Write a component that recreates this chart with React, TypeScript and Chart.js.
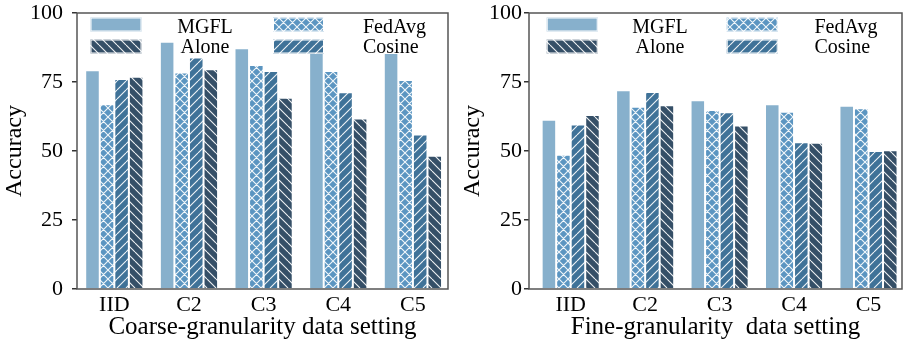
import React, { useEffect, useRef } from 'react';
import { Chart, registerables } from 'chart.js';

Chart.register(...registerables);

// ---------- data ----------
const categories = ['IID', 'C2', 'C3', 'C4', 'C5'];
const seriesNames = ['MGFL', 'FedAvg', 'Cosine', 'Alone'];

const coarseMGFL = [79.3, 89.6, 87.2, 85.5, 85.5];
const coarseFedAvg = [66.9, 78.4, 81.2, 79.0, 75.7];
const coarseCosine = [76.1, 83.9, 79.0, 71.3, 56.0];
const coarseAlone = [76.9, 79.6, 69.3, 61.8, 48.3];

const fineMGFL = [61.3, 72.0, 68.4, 66.9, 66.4];
const fineFedAvg = [48.6, 66.0, 64.9, 64.2, 65.5];
const fineCosine = [59.6, 71.4, 64.0, 53.2, 50.0];
const fineAlone = [63.0, 66.6, 59.2, 53.0, 50.3];

const yTicks = [0, 25, 50, 75, 100];
const yTitle = 'Accuracy';
const xTitleCoarse = 'Coarse-granularity data setting';
const xTitleFine = 'Fine-granularity  data setting';

// ---------- styles ----------
const colors = ['#87B0CC', '#5B95C1', '#3F7298', '#354F67'];
const hatches = ['', 'x', '/', '\\'];
const FONT = "'Liberation Serif', 'Times New Roman', serif";

function makeFill(ctx: CanvasRenderingContext2D, color: string, hatch: string): any {
  if (!hatch) return color;
  const s = 9;
  const c = document.createElement('canvas');
  c.width = s;
  c.height = s;
  const g = c.getContext('2d') as CanvasRenderingContext2D;
  g.fillStyle = color;
  g.fillRect(0, 0, s, s);
  g.strokeStyle = 'rgba(255,255,255,0.92)';
  g.lineWidth = 1.1;
  g.beginPath();
  for (const k of [-s, 0, s]) {
    if (hatch === '/' || hatch === 'x') {
      g.moveTo(k, s);
      g.lineTo(k + s, 0);
    }
    if (hatch === '\\' || hatch === 'x') {
      g.moveTo(k, 0);
      g.lineTo(k + s, s);
    }
  }
  g.stroke();
  return ctx.createPattern(c, 'repeat');
}

interface PanelSpec {
  series: number[][];
  xTitle: string;
  xMin: number;
  xMax: number;
  yWidth: number;
  padRight: number;
  yTickPad: number;
  yTitlePad: number;
  legend: { p1: number; t1: number; p2: number; t2: number };
}

const leftSpec: PanelSpec = {
  series: [coarseMGFL, coarseFedAvg, coarseCosine, coarseAlone],
  xTitle: xTitleCoarse,
  xMin: -0.5,
  xMax: 4.47,
  yWidth: 77,
  padRight: 3,
  yTickPad: 9,
  yTitlePad: 3,
  legend: { p1: 13.5, t1: 128, p2: 196, t2: 286 },
};

const rightSpec: PanelSpec = {
  series: [fineMGFL, fineFedAvg, fineCosine, fineAlone],
  xTitle: xTitleFine,
  xMin: -0.56,
  xMax: 4.45,
  yWidth: 78,
  padRight: 1,
  yTickPad: 2,
  yTitlePad: 10,
  legend: { p1: 17.7, t1: 131, p2: 197.7, t2: 285.5 },
};

function createPanel(canvas: HTMLCanvasElement, p: PanelSpec) {
  const ctx = canvas.getContext('2d') as CanvasRenderingContext2D;
  const fills = colors.map((c, i) => makeFill(ctx, c, hatches[i]));

  const framePlugin = {
    id: 'frame',
    afterDatasetsDraw(chart: any) {
      const { ctx: c, chartArea: a } = chart;
      c.save();
      c.strokeStyle = '#555555';
      c.lineWidth = 1.5;
      c.strokeRect(a.left, a.top, a.right - a.left, a.bottom - a.top);
      c.restore();
    },
  };

  const legendPlugin = {
    id: 'customLegend',
    afterDraw(chart: any) {
      const { ctx: c, chartArea: a } = chart;
      const L = a.left;
      const rowsTop = [17.5, 39.5];
      const baselines = [32.5, 52.5];
      const pw = 51;
      const ph = 14;
      const items = [
        { idx: 0, col: 0, row: 0 },
        { idx: 3, col: 0, row: 1 },
        { idx: 1, col: 1, row: 0 },
        { idx: 2, col: 1, row: 1 },
      ];
      c.save();
      c.font = `20px ${FONT}`;
      c.textBaseline = 'alphabetic';
      for (const it of items) {
        const px = L + (it.col === 0 ? p.legend.p1 : p.legend.p2);
        const py = rowsTop[it.row];
        c.fillStyle = fills[it.idx];
        c.fillRect(px, py, pw, ph);
        c.strokeStyle = '#ffffff';
        c.lineWidth = 1;
        c.strokeRect(px + 0.5, py + 0.5, pw - 1, ph - 1);
        c.fillStyle = '#000';
        if (it.col === 0) {
          c.textAlign = 'center';
          c.fillText(seriesNames[it.idx], L + p.legend.t1, baselines[it.row]);
        } else {
          c.textAlign = 'left';
          c.fillText(seriesNames[it.idx], L + p.legend.t2, baselines[it.row]);
        }
      }
      c.restore();
    },
  };

  return new Chart(canvas, {
    type: 'bar',
    data: {
      datasets: p.series.map((vals, si) => ({
        label: seriesNames[si],
        data: vals.map((v, i) => ({ x: i, y: v })),
        backgroundColor: fills[si],
        borderColor: '#ffffff',
        borderWidth: 1,
        borderSkipped: 'start',
        categoryPercentage: 0.78,
        barPercentage: 1.0,
      })),
    },
    options: {
      responsive: false,
      animation: false,
      devicePixelRatio: 1,
      layout: { padding: { top: 13, right: p.padRight, left: 0, bottom: 0 } },
      plugins: {
        legend: { display: false },
        tooltip: { enabled: false },
      },
      scales: {
        x: {
          type: 'linear',
          min: p.xMin,
          max: p.xMax,
          offset: false,
          grid: { display: false, drawTicks: false, offset: false },
          border: { display: false },
          ticks: {
            stepSize: 1,
            includeBounds: false,
            autoSkip: false,
            maxRotation: 0,
            padding: 3,
            color: '#000',
            font: { family: FONT, size: 22 },
            callback: (v: any) => (categories[v as number] ?? ''),
          },
          title: {
            display: true,
            text: p.xTitle,
            color: '#000',
            font: { family: FONT, size: 25, lineHeight: 1 },
            padding: { top: 0, bottom: 3.5 },
          },
          afterFit: (s: any) => {
            s.height = 54;
            s.paddingLeft = 0;
            s.paddingRight = 0;
          },
        },
        y: {
          min: 0,
          max: 100,
          grid: {
            display: true,
            drawOnChartArea: false,
            drawTicks: true,
            tickLength: 5,
            color: '#333',
            lineWidth: 1.5,
          },
          border: { display: false },
          ticks: {
            padding: p.yTickPad,
            color: '#000',
            font: { family: FONT, size: 22 },
          },
          afterBuildTicks: (s: any) => {
            s.ticks = yTicks.map((v) => ({ value: v }));
          },
          title: {
            display: true,
            text: yTitle,
            color: '#000',
            font: { family: FONT, size: 24, lineHeight: 1 },
            padding: { top: p.yTitlePad, bottom: 0 },
          },
          afterFit: (s: any) => {
            s.width = p.yWidth;
            s.paddingTop = 0;
            s.paddingBottom = 0;
          },
        },
      },
    } as any,
    plugins: [framePlugin, legendPlugin],
  } as any);
}

export default function App() {
  const leftRef = useRef<HTMLCanvasElement>(null);
  const rightRef = useRef<HTMLCanvasElement>(null);

  useEffect(() => {
    const charts: Chart[] = [];
    if (leftRef.current) charts.push(createPanel(leftRef.current, leftSpec));
    if (rightRef.current) charts.push(createPanel(rightRef.current, rightSpec));
    return () => charts.forEach((c) => c.destroy());
  }, []);

  return (
    <div style={{ position: 'fixed', left: 0, top: 0, width: 903, height: 343, background: '#fff' }}>
      <canvas
        ref={leftRef}
        width={451}
        height={343}
        style={{ position: 'absolute', left: 0, top: 0, width: 451, height: 343 }}
      />
      <canvas
        ref={rightRef}
        width={452}
        height={343}
        style={{ position: 'absolute', left: 451, top: 0, width: 452, height: 343 }}
      />
    </div>
  );
}
